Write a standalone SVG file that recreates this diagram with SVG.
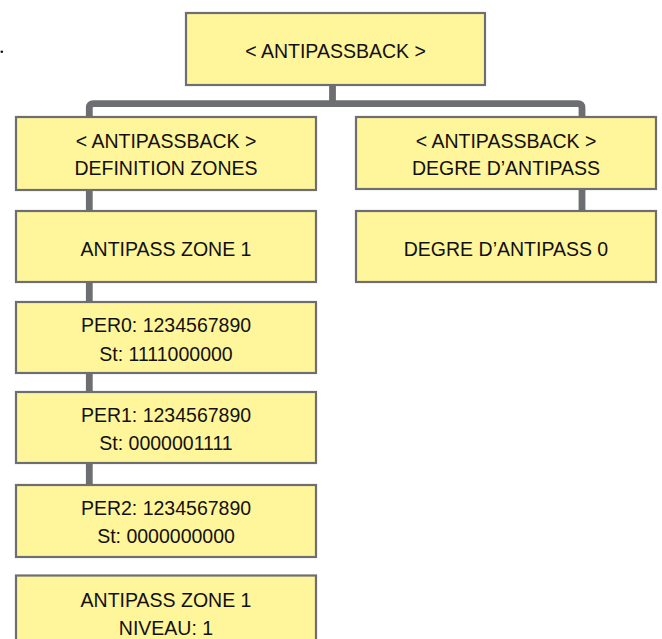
<svg xmlns="http://www.w3.org/2000/svg" width="662" height="639" viewBox="0 0 662 639">
  <style>
    .box { fill: #fff59b; stroke: #6d6e71; stroke-width: 2.2; }
    .lbl { font-family: "Liberation Sans", Arial, sans-serif; font-size: 19.5px; fill: #111; text-anchor: middle; }
    .con { fill: none; stroke: #6d6e71; stroke-width: 6.8; stroke-linejoin: round; }
  </style>
  <rect width="662" height="639" fill="#ffffff"/>
  <circle cx="1.8" cy="51.8" r="1.3" fill="#111"/>

  <g id="connectors">
    <line class="con" x1="332.5" y1="85" x2="332.5" y2="104"/>
    <path class="con" d="M89.3,117 V108 Q89.3,103.7 93.6,103.7 H577.7 Q582,103.7 582,108 V117"/>
    <line class="con" x1="89.3" y1="190" x2="89.3" y2="211"/>
    <line class="con" x1="89.3" y1="282" x2="89.3" y2="302"/>
    <line class="con" x1="89.3" y1="373" x2="89.3" y2="392"/>
    <line class="con" x1="89.3" y1="463" x2="89.3" y2="485"/>
    <line class="con" x1="582" y1="189" x2="582" y2="211"/>
  </g>

  <g id="root">
    <rect class="box" x="186" y="13" width="299" height="72"/>
    <text class="lbl" x="335.5" y="57.5">&lt; ANTIPASSBACK &gt;</text>
  </g>

  <g id="definition-zones">
    <rect class="box" x="16" y="117" width="300" height="73"/>
    <text class="lbl" x="166" y="148.3">&lt; ANTIPASSBACK &gt;</text>
    <text class="lbl" x="166" y="175">DEFINITION ZONES</text>
  </g>

  <g id="degre-antipass">
    <rect class="box" x="356" y="117" width="300" height="72"/>
    <text class="lbl" x="506" y="148.3">&lt; ANTIPASSBACK &gt;</text>
    <text class="lbl" x="506" y="175">DEGRE D’ANTIPASS</text>
  </g>

  <g id="antipass-zone-1">
    <rect class="box" x="16" y="211" width="300" height="71"/>
    <text class="lbl" x="166" y="255.5">ANTIPASS ZONE 1</text>
  </g>

  <g id="degre-antipass-0">
    <rect class="box" x="356" y="211" width="300" height="71"/>
    <text class="lbl" x="506" y="255.7">DEGRE D’ANTIPASS 0</text>
  </g>

  <g id="per0">
    <rect class="box" x="16" y="302" width="300" height="71"/>
    <text class="lbl" x="166" y="332">PER0: 1234567890</text>
    <text class="lbl" x="166" y="360.5">St: 1111000000</text>
  </g>

  <g id="per1">
    <rect class="box" x="16" y="392" width="300" height="71"/>
    <text class="lbl" x="166" y="421.8">PER1: 1234567890</text>
    <text class="lbl" x="166" y="450">St: 0000001111</text>
  </g>

  <g id="per2">
    <rect class="box" x="16" y="485" width="300" height="72"/>
    <text class="lbl" x="166" y="515">PER2: 1234567890</text>
    <text class="lbl" x="166" y="543.3">St: 0000000000</text>
  </g>

  <g id="zone-1-niveau">
    <rect class="box" x="16" y="575.5" width="300" height="72"/>
    <text class="lbl" x="166" y="606.7">ANTIPASS ZONE 1</text>
    <text class="lbl" x="166" y="635">NIVEAU: 1</text>
  </g>
</svg>
